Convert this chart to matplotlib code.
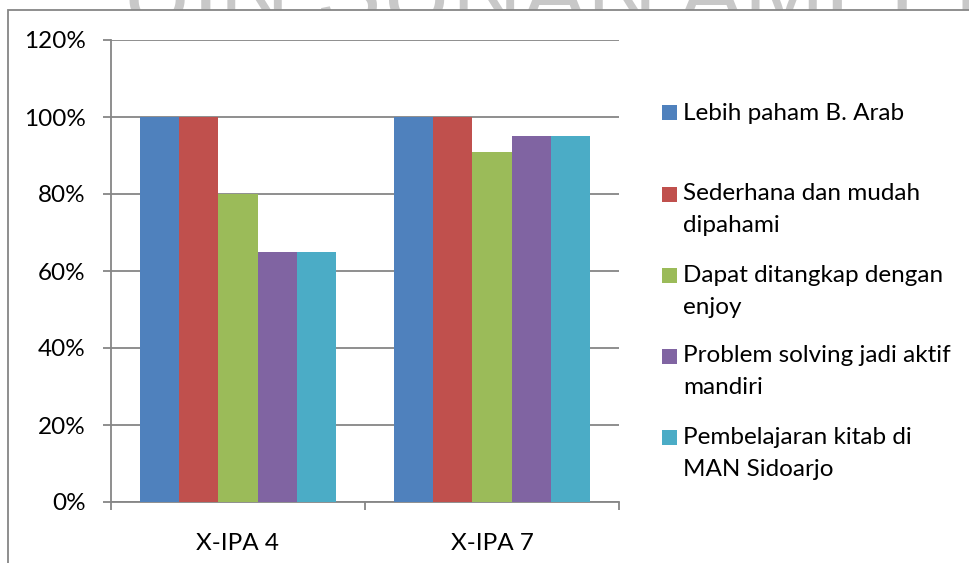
import matplotlib
matplotlib.use("Agg")
import matplotlib.pyplot as plt
from matplotlib.patches import Rectangle
import numpy as np

categories = ["X-IPA 4", "X-IPA 7"]
series_names = [
    "Lebih paham B. Arab",
    "Sederhana dan mudah\ndipahami",
    "Dapat ditangkap dengan\nenjoy",
    "Problem solving jadi aktif\nmandiri",
    "Pembelajaran kitab di\nMAN Sidoarjo",
]
values = [
    [1.00, 1.00],
    [1.00, 1.00],
    [0.80, 0.91],
    [0.65, 0.95],
    [0.65, 0.95],
]
colors = ["#4F81BD", "#C0504D", "#9BBB59", "#8064A2", "#4BACC6"]
yticks = [0, 0.2, 0.4, 0.6, 0.8, 1.0, 1.2]
ytick_labels = ["0%", "20%", "40%", "60%", "80%", "100%", "120%"]

FONT = "Lato"
FS = 17.5
plt.rcParams["font.family"] = [FONT, "DejaVu Sans"]

W, H = 970, 563
fig = plt.figure(figsize=(W / 100, H / 100), dpi=100)
fig.patch.set_facecolor("white")

def fx(px):
    return px / W

def fy(py):
    return 1 - py / H

FRAME_TOP = 10

# watermark (mostly hidden behind the chart frame)
fig.text(fx(122), fy(24), "UIN SUNAN AMPEL", fontsize=70, color="#c8c8c8",
         ha="left", va="baseline", family="Liberation Sans", zorder=0.1)

# chart frame
frame = Rectangle((fx(8), -0.1), 1.2, fy(FRAME_TOP) + 0.1, transform=fig.transFigure,
                  facecolor="white", edgecolor="#868686", linewidth=1.3, zorder=0.5)
fig.patches.append(frame)

ax = fig.add_axes([fx(111), fy(502), fx(619) - fx(111), fy(40) - fy(502)])
ax.set_zorder(1)
ax.patch.set_alpha(0)

n = len(values)
x = np.arange(len(categories))
group_w = 0.77
bw = group_w / n
for i in range(n):
    ax.bar(x - group_w / 2 + bw * (i + 0.5), values[i], width=bw,
           color=colors[i], zorder=3, linewidth=0)

ax.set_xlim(-0.5, len(categories) - 0.5)
ax.set_ylim(0, 1.2)
ax.set_yticks(yticks)
ax.set_yticklabels(ytick_labels)
ax.yaxis.grid(True, color="#868686", linewidth=1.3, zorder=0)
ax.set_axisbelow(True)

ax.set_xticks(x)
ax.set_xticklabels(categories)
ax.set_xticks([-0.5, 0.5, 1.5], minor=True)
ax.tick_params(axis="x", which="major", length=0, pad=22, labelsize=FS)
ax.tick_params(axis="x", which="minor", length=5.8, width=1.3, color="#868686",
               direction="out")
ax.tick_params(axis="y", length=5.8, width=1.3, color="#868686", pad=12.5,
               labelsize=FS)

for s in ["top", "right"]:
    ax.spines[s].set_visible(False)
for s in ["left", "bottom"]:
    ax.spines[s].set_color("#868686")
    ax.spines[s].set_linewidth(1.3)

# legend
y0 = 113
step = 81
line_h = 32
for i, name in enumerate(series_names):
    yc = y0 + step * i
    fig.patches.append(Rectangle((fx(662), fy(yc + 7.5)), fx(15), 15 / H,
                                 transform=fig.transFigure, facecolor=colors[i],
                                 edgecolor="none", zorder=2))
    for k, line in enumerate(name.split("\n")):
        fig.text(fx(683), fy(yc + line_h * k), line, ha="left", va="center",
                 fontsize=FS, color="black", zorder=2)

fig.savefig("out.png", dpi=100)
